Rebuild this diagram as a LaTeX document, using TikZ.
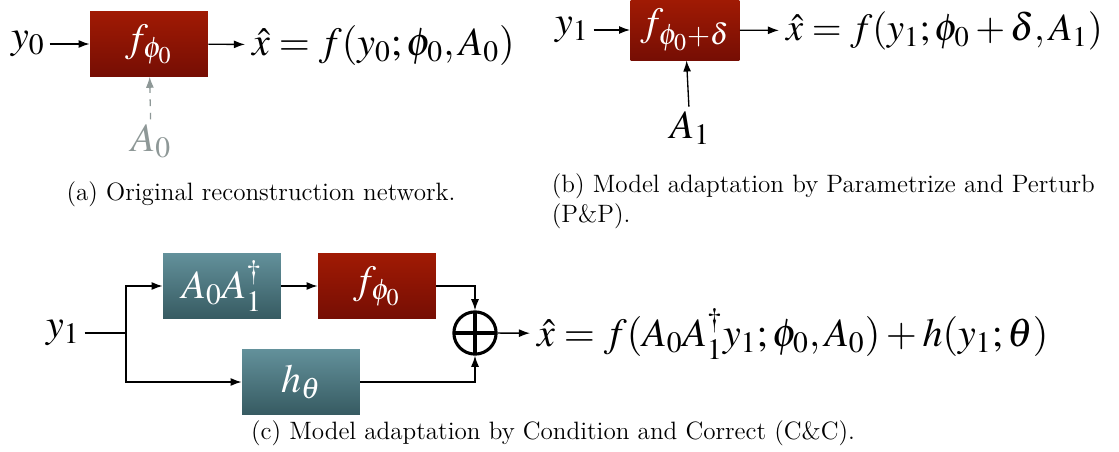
\documentclass[tikz,border=0pt]{standalone}
\usepackage{mathptmx}
\renewcommand{\rmdefault}{lmr}
\usetikzlibrary{positioning, arrows.meta}
\definecolor{redTop}{HTML}{A01A04}
\definecolor{redBot}{HTML}{760E04}
\definecolor{tealTop}{HTML}{62909A}
\definecolor{tealBot}{HTML}{375B62}
\definecolor{gryTxt}{HTML}{8E9897}

\begin{document}
\begin{tikzpicture}[
  x=0.45pt, y=-0.45pt,
  block/.style={rectangle, inner sep=0pt, minimum width=53pt, minimum height=29pt,
                text=white, font=\fontsize{18}{20}\selectfont},
  redb/.style={block, top color=redTop, bottom color=redBot},
  tealb/.style={block, top color=tealTop, bottom color=tealBot},
  lbl/.style={inner sep=2pt, font=\fontsize{18}{20}\selectfont},
  eqn/.style={lbl, anchor=west, inner sep=3pt},
  captxt/.style={font=\fontsize{11.3}{13.5}\selectfont},
  arr/.style={-{Latex[length=5pt,width=3.6pt]}, line width=0.6pt},
  sumnode/.style={circle, draw, line width=1.4pt, minimum size=19pt, inner sep=0pt,
                  path picture={\draw[line width=1.4pt]
                    (path picture bounding box.north) -- (path picture bounding box.south)
                    (path picture bounding box.west) -- (path picture bounding box.east);}},
]
\useasboundingbox (0,0) rectangle (1119,452);

% ---- (a) Original network ----
\node[lbl] (y0) at (28,44) {$y_0$};
\node[redb] (fa) at (149,44) {$f_{\phi_0}$};
\node[eqn] (xa) at (245,45) {$\hat{x} = f(y_0;\phi_0,A_0)$};
\node[lbl, text=gryTxt] (A0) at (151,141) {$A_0$};
\draw[arr] (y0) -- (fa);
\draw[arr] (fa) -- (xa);
\draw[arr, dashed, gryTxt] (A0) -- (fa);
\node[captxt] (capa) at (261,194) {(a) Original reconstruction network.};

% ---- (b) Parametrize and Perturb ----
\node[lbl] (y1b) at (572,30) {$y_1$};
\node[redb, minimum width=49pt, minimum height=27pt] (fb) at (685,30) {$f_{\phi_0+\delta}$};
\node[eqn, font=\fontsize{17.3}{20}\selectfont] (xb) at (779,31)
   {$\hat{x} = f(y_1;\phi_0+\delta,A_1)$};
\node[lbl] (A1) at (690,128) {$A_1$};
\draw[arr] (y1b) -- (fb);
\draw[arr] (fb) -- (xb);
\draw[arr] (A1) -- (fb);
\node[captxt, anchor=north west, align=left] (capb) at (544,166)
   {(b) Model adaptation by Parametrize and Perturb\\(P\&P).};

% ---- (c) Condition and Correct ----
\node[lbl] (y1c) at (63,333) {$y_1$};
\coordinate (split) at (126,333);
\node[tealb] (ab) at (222,286) {$A_0A_1^{\dagger}$};
\node[redb] (fc) at (377,286) {$f_{\phi_0}$};
\node[tealb] (hb) at (301,382) {$h_\theta$};
\node[sumnode] (sum) at (475,333) {};
\node[eqn] (xc) at (530,334) {$\hat{x} = f(A_0A_1^{\dagger}y_1;\phi_0,A_0) + h(y_1;\theta)$};
\draw[line width=0.6pt] (y1c) -- (split);
\draw[arr] (split) |- (ab);
\draw[arr] (split) |- (hb);
\draw[arr] (ab) -- (fc);
\draw[arr] (fc) -| (sum);
\draw[arr] (hb) -| (sum);
\draw[arr] (sum) -- (xc);
\node[captxt] (capc) at (553,433) {(c) Model adaptation by Condition and Correct (C\&C).};

\end{tikzpicture}
\end{document}
